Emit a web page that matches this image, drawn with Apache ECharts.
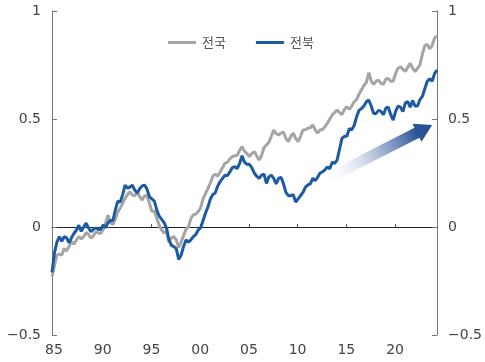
<!DOCTYPE html>
<html><head><meta charset="utf-8">
<script src="https://cdn.jsdelivr.net/npm/echarts@6/dist/echarts.min.js"></script>
<style>html,body{margin:0;padding:0;background:#fff}#c{width:485px;height:362px}</style>
</head><body><div id="c"></div>
<script>
const seriesNames = ['전국', '전북'];
const startYear = 1984.8;
const stepYears = 0.25;
const national = [
 -0.23,-0.18,-0.13,-0.125,-0.13,-0.10,-0.11,-0.09,-0.068,-0.08,-0.06,-0.045,-0.055,-0.045,-0.025,-0.035,
 -0.052,-0.04,-0.022,-0.028,-0.03,-0.01,0.02,0.055,0.02,0.012,0.035,0.07,0.087,0.11,0.133,0.15,
 0.163,0.148,0.145,0.162,0.14,0.125,0.145,0.145,0.11,0.071,0.075,0.04,0.008,-0.014,-0.028,-0.02,
 -0.07,-0.05,-0.045,-0.06,-0.095,-0.07,-0.04,-0.01,0.0,0.04,0.056,0.06,0.071,0.09,0.13,0.155,
 0.178,0.205,0.235,0.245,0.235,0.255,0.275,0.295,0.30,0.315,0.326,0.33,0.332,0.355,0.372,0.35,
 0.34,0.326,0.34,0.349,0.33,0.31,0.33,0.368,0.38,0.392,0.42,0.449,0.432,0.426,0.435,0.44,
 0.41,0.395,0.42,0.434,0.41,0.395,0.42,0.449,0.45,0.457,0.46,0.472,0.45,0.434,0.45,0.45,
 0.465,0.48,0.50,0.519,0.53,0.542,0.53,0.52,0.545,0.557,0.545,0.56,0.58,0.59,0.615,0.635,
 0.655,0.67,0.715,0.675,0.66,0.675,0.68,0.665,0.66,0.685,0.688,0.675,0.675,0.71,0.735,0.742,
 0.73,0.72,0.74,0.758,0.735,0.72,0.735,0.75,0.80,0.84,0.845,0.825,0.84,0.875,0.885
];
const jeonbuk = [
 -0.21,-0.12,-0.07,-0.045,-0.066,-0.045,-0.05,-0.074,-0.05,-0.03,-0.015,0.008,-0.02,0.0,0.018,-0.005,
 -0.022,-0.01,-0.005,-0.012,-0.01,0.009,-0.003,0.02,0.03,0.03,0.08,0.12,0.115,0.15,0.194,0.18,
 0.185,0.194,0.17,0.157,0.178,0.19,0.194,0.175,0.14,0.13,0.12,0.079,0.05,0.035,0.02,-0.005,
 -0.06,-0.085,-0.091,-0.10,-0.15,-0.13,-0.09,-0.06,-0.07,-0.06,-0.045,-0.035,-0.014,-0.003,0.03,0.065,
 0.092,0.13,0.15,0.158,0.19,0.21,0.225,0.24,0.238,0.255,0.275,0.279,0.27,0.295,0.33,0.30,
 0.29,0.29,0.275,0.25,0.235,0.225,0.24,0.245,0.202,0.232,0.24,0.225,0.20,0.225,0.23,0.20,
 0.16,0.145,0.145,0.15,0.115,0.13,0.145,0.16,0.185,0.195,0.20,0.225,0.215,0.23,0.25,0.255,
 0.265,0.278,0.27,0.30,0.295,0.31,0.36,0.41,0.42,0.42,0.455,0.45,0.47,0.51,0.54,0.548,
 0.56,0.58,0.588,0.56,0.525,0.526,0.54,0.535,0.52,0.55,0.555,0.52,0.495,0.535,0.56,0.555,
 0.534,0.575,0.58,0.555,0.585,0.56,0.56,0.59,0.605,0.64,0.675,0.686,0.675,0.71,0.727
];
const xLabelYears = [1985, 1990, 1995, 2000, 2005, 2010, 2015, 2020];
const xLabelTexts = ['85', '90', '95', '00', '05', '10', '15', '20'];
const xTickYears = [1990, 1995, 2000, 2005, 2010, 2015, 2020];
const yTicks = [-0.5, 0, 0.5, 1];
const yTickLabels = ['\u22120.5', '0', '0.5', '1'];
const arrowFrom = [2012.75, 0.218];
const arrowTo = [2023.8, 0.472];

const xMin = 1984.8, xMax = 2024.3;
const toPairs = arr => arr.map((v, i) => [startYear + i * stepYears, v]);

const chart = echarts.init(document.getElementById('c'), null, {renderer: 'canvas'});
const numFont = {fontFamily: 'DejaVu Sans', fontSize: 14, color: '#444'};
const yAxisBase = (pos) => ({
  type: 'value', position: pos, min: -0.5, max: 1, interval: 0.5,
  axisLine: {show: true, onZero: false, lineStyle: {color: '#777', width: 1}},
  axisTick: {show: true, inside: true, length: 5, lineStyle: {color: '#777'}},
  splitLine: {show: false},
  axisLabel: Object.assign({margin: 11, formatter: v => {
    const k = yTicks.findIndex(t => Math.abs(t - v) < 1e-9); return k >= 0 ? yTickLabels[k] : '';
  }}, numFont)
});
chart.setOption({
  animation: false,
  backgroundColor: '#fff',
  grid: {left: 52, right: 47, top: 11, bottom: 27, containLabel: false},
  legend: {
    top: 31, left: 163, itemGap: 30, itemWidth: 28, itemHeight: 3, icon: 'rect',
    textStyle: {fontFamily: 'Noto Sans CJK KR', fontSize: 13, color: '#555', padding: [0, 0, 0, 1]},
    data: seriesNames
  },
  xAxis: [
    {type: 'value', min: xMin, max: xMax, position: 'bottom',
     axisLine: {show: false, onZero: false}, axisTick: {show: false}, splitLine: {show: false},
     axisLabel: Object.assign({margin: 8, customValues: xLabelYears,
       formatter: v => { const k = xLabelYears.indexOf(Math.round(v)); return k >= 0 ? xLabelTexts[k] : ''; }}, numFont)},
    {type: 'value', min: xMin, max: xMax, position: 'bottom',
     axisLine: {show: true, onZero: true, lineStyle: {color: '#222', width: 1}},
     axisTick: {show: true, inside: true, length: 3, customValues: xTickYears, lineStyle: {color: '#555'}},
     axisLabel: {show: false}, splitLine: {show: false}}
  ],
  yAxis: [yAxisBase('left'), yAxisBase('right')],
  series: [
    {name: seriesNames[0], type: 'line', data: toPairs(national), showSymbol: false, symbol: 'none',
     lineStyle: {color: '#a5a5a5', width: 3}, itemStyle: {color: '#a5a5a5'}, z: 3},
    {name: seriesNames[1], type: 'line', data: toPairs(jeonbuk), showSymbol: false, symbol: 'none',
     lineStyle: {color: '#1c5aa3', width: 3}, itemStyle: {color: '#1c5aa3'}, z: 4}
  ]
});

// Decorative trend arrow placed in data coordinates
const p0 = chart.convertToPixel({xAxisIndex: 0, yAxisIndex: 0}, arrowFrom);
const p1 = chart.convertToPixel({xAxisIndex: 0, yAxisIndex: 0}, arrowTo);
const dx = p1[0] - p0[0], dy = p1[1] - p0[1];
const len = Math.hypot(dx, dy);
const ux = dx / len, uy = dy / len, nx = -uy, ny = ux;
const headLen = 17, headHalf = 10, shaftHalf = 5.5;
const nk = [p1[0] - ux * headLen, p1[1] - uy * headLen];
const pts = [
  [p0[0] + nx * shaftHalf, p0[1] + ny * shaftHalf],
  [nk[0] + nx * shaftHalf, nk[1] + ny * shaftHalf],
  [nk[0] + nx * headHalf, nk[1] + ny * headHalf],
  [p1[0], p1[1]],
  [nk[0] - nx * headHalf, nk[1] - ny * headHalf],
  [nk[0] - nx * shaftHalf, nk[1] - ny * shaftHalf],
  [p0[0] - nx * shaftHalf, p0[1] - ny * shaftHalf]
];
chart.setOption({
  graphic: [{
    type: 'polygon', z: 1, silent: true,
    shape: {points: pts},
    style: {
      fill: new echarts.graphic.LinearGradient(p0[0], p0[1], p1[0], p1[1], [
        {offset: 0, color: 'rgba(255,255,255,0)'},
        {offset: 0.55, color: 'rgba(120,145,190,0.75)'},
        {offset: 0.85, color: '#2c5597'},
        {offset: 1, color: '#234f93'}
      ], true)
    }
  }]
});
</script>
</body></html>
